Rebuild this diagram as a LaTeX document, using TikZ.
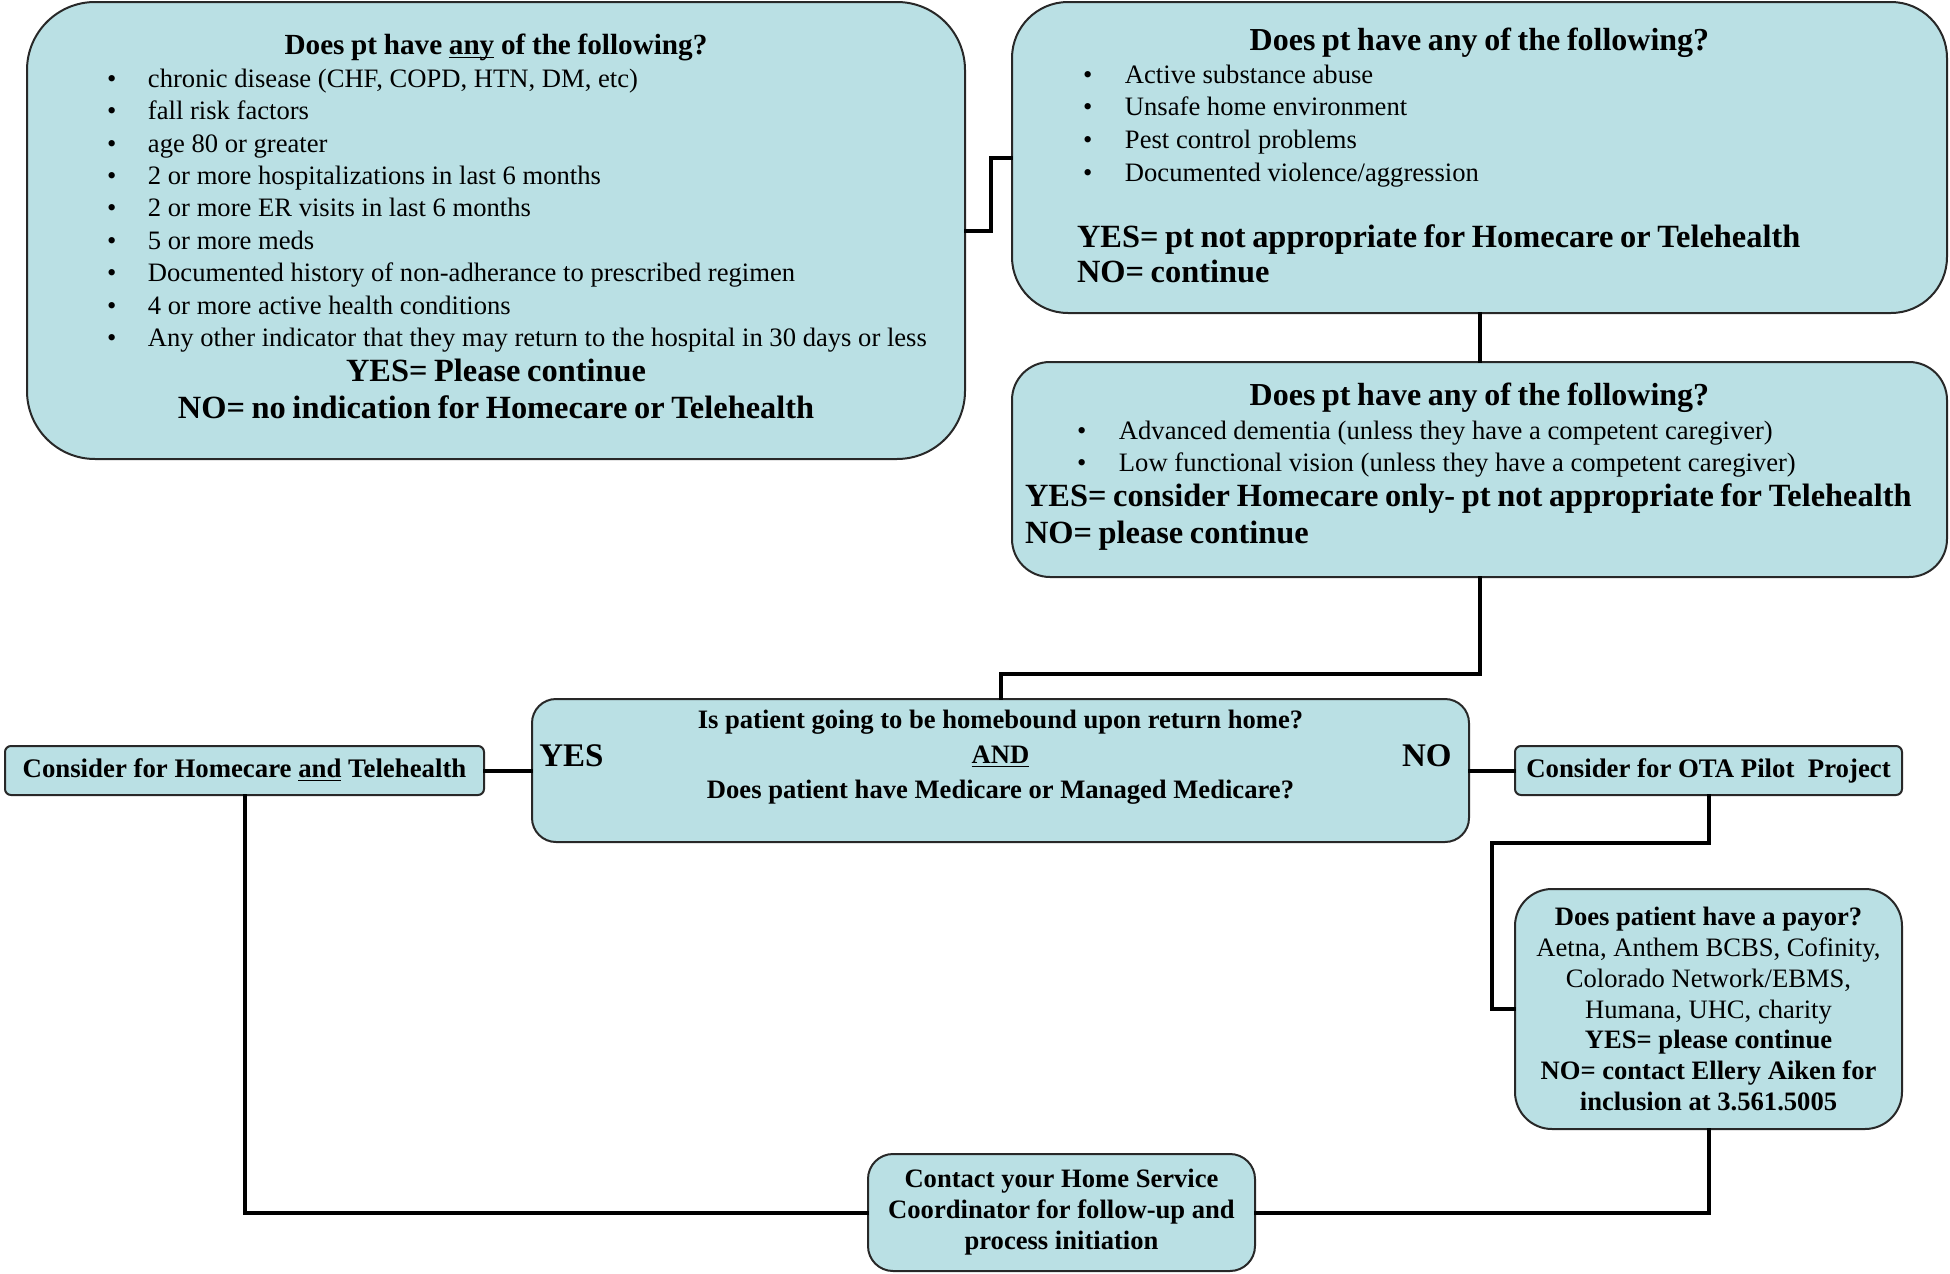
\documentclass[tikz,border=0pt]{standalone}
\usepackage{fontspec}
\setmainfont{Liberation Serif}
\usepackage{tikz}
\usepackage{xcolor}
\definecolor{boxfill}{RGB}{186,224,228}
\definecolor{boxline}{RGB}{40,40,40}
\newcommand{\ctr}[1]{\makebox[\linewidth]{#1}\par}
\newcommand{\blt}[3]{\hspace*{#1}\makebox[#2][l]{\textbullet}#3\par}

\begin{document}
\begin{tikzpicture}[x=0.5pt,y=-0.5pt,line cap=rect,
  flow/.style={draw=boxline,line width=1pt,fill=boxfill,inner sep=0pt,align=center},
  conn/.style={line width=2pt,black},
  yesno/.style={font=\fontsize{16.5}{18}\selectfont\bfseries,inner sep=0pt}]
\useasboundingbox (0,0) rectangle (1950,1274);
\node[flow,rounded corners=34pt,minimum width=469pt,minimum height=228.5pt,text width=469pt,align=left] (risk) at (496,230.5) {%
\fontsize{14.6}{16.2}\selectfont
\ctr{\bfseries Does pt have \underline{\smash{any}} of the following?}
\fontsize{13.3}{16.2}\selectfont
\blt{40pt}{20.5pt}{chronic disease (CHF, COPD, HTN, DM, etc)}
\blt{40pt}{20.5pt}{fall risk factors}
\blt{40pt}{20.5pt}{age 80 or greater}
\blt{40pt}{20.5pt}{2 or more hospitalizations in last 6 months}
\blt{40pt}{20.5pt}{2 or more ER visits in last 6 months}
\blt{40pt}{20.5pt}{5 or more meds}
\blt{40pt}{20.5pt}{Documented history of non-adherance to prescribed regimen}
\blt{40pt}{20.5pt}{4 or more active health conditions}
\blt{40pt}{20.5pt}{Any other indicator that they may return to the hospital in 30 days or less}
\fontsize{16.2}{17.5}\selectfont
\ctr{\bfseries YES= Please continue}
\fontsize{16.2}{18.5}\selectfont
\ctr{\bfseries NO= no indication for Homecare or Telehealth}\kern4pt};
\node[flow,rounded corners=28pt,minimum width=467.5pt,minimum height=155.5pt,text width=467.5pt,align=left] (excl) at (1479.5,157.5) {%
\fontsize{16}{16.5}\selectfont
\ctr{\bfseries Does pt have any of the following?}
\fontsize{13.3}{16.2}\selectfont
\blt{35.5pt}{21pt}{Active substance abuse}
\fontsize{13.3}{16.3}\selectfont
\blt{35.5pt}{21pt}{Unsafe home environment}
\blt{35.5pt}{21pt}{Pest control problems}
\blt{35.5pt}{21pt}{Documented violence/aggression}
\vspace{15.5pt}
\fontsize{16.2}{17.5}\selectfont
\hspace*{32.5pt}\textbf{YES= pt not appropriate for Homecare or Telehealth}\par
\hspace*{32.5pt}\textbf{NO= continue}\par\kern2pt};
\node[flow,rounded corners=19pt,minimum width=467.5pt,minimum height=107.5pt,text width=467.5pt,align=left] (screen) at (1479.5,469.5) {%
\fontsize{16}{16.5}\selectfont
\ctr{\bfseries Does pt have any of the following?}
\fontsize{13.3}{17.2}\selectfont
\blt{32.5pt}{21pt}{Advanced dementia (unless they have a competent caregiver)}
\fontsize{13.3}{16}\selectfont
\blt{32.5pt}{21pt}{Low functional vision (unless they have a competent caregiver)}
\fontsize{16.2}{17.5}\selectfont
\hspace*{6.5pt}\textbf{YES= consider Homecare only- pt not appropriate for Telehealth}\par
\fontsize{16.2}{18.5}\selectfont
\hspace*{6.5pt}\textbf{NO= please continue}\par\kern3pt};
\node[flow,rounded corners=12pt,minimum width=468.5pt,minimum height=71.5pt,text depth=16pt,font=\fontsize{13.3}{17.5}\selectfont\bfseries] (homebd) at (1000.5,770.5)
  {Is patient going to be homebound upon return home?\\\underline{AND}\\Does patient have Medicare or Managed Medicare?};
\node[yesno,anchor=west] (yes) at ([xshift=4pt,yshift=7.25pt]homebd.west) {YES};
\node[yesno,anchor=east] (no) at ([xshift=-9pt,yshift=7.25pt]homebd.east) {NO};
\node[flow,rounded corners=3pt,minimum width=239.5pt,minimum height=24.5pt,font=\fontsize{13.4}{14}\selectfont\bfseries] (both) at (244.5,770.5)
  {Consider for Homecare \underline{and} Telehealth};
\node[flow,rounded corners=3pt,minimum width=193.5pt,minimum height=24.5pt,font=\fontsize{13.4}{14}\selectfont\bfseries] (ota) at (1708.5,770.5)
  {Consider for OTA Pilot\ \ Project};
\node[flow,rounded corners=18.5pt,minimum width=193.5pt,minimum height=120pt,font=\fontsize{13.3}{15.35}\selectfont] (payor) at (1708.5,1009)
  {\textbf{Does patient have a payor?}\\Aetna, Anthem BCBS, Cofinity,\\Colorado Network/EBMS,\\Humana, UHC, charity\\\textbf{YES= please continue}\\\textbf{NO= contact Ellery Aiken for}\\\textbf{inclusion at 3.561.5005}};
\node[flow,rounded corners=12.5pt,minimum width=193.5pt,minimum height=58.5pt,font=\fontsize{13.3}{15.5}\selectfont\bfseries] (home) at (1061.5,1212.5)
  {Contact your Home Service\\Coordinator for follow-up and\\process initiation};
\draw[conn] (risk.east) -- ++(25,0) |- (excl.west);
\draw[conn] (excl.south) -- (screen.north);
\draw[conn] (screen.south) -- ++(0,96) -| (homebd.north);
\draw[conn] (homebd.west) -- (both.east);
\draw[conn] (homebd.east) -- (ota.west);
\draw[conn] (ota.south) |- (1492,843) |- (payor.west);
\draw[conn] (payor.south) |- (home.east);
\draw[conn] (both.south) |- (home.west);
\end{tikzpicture}
\end{document}
